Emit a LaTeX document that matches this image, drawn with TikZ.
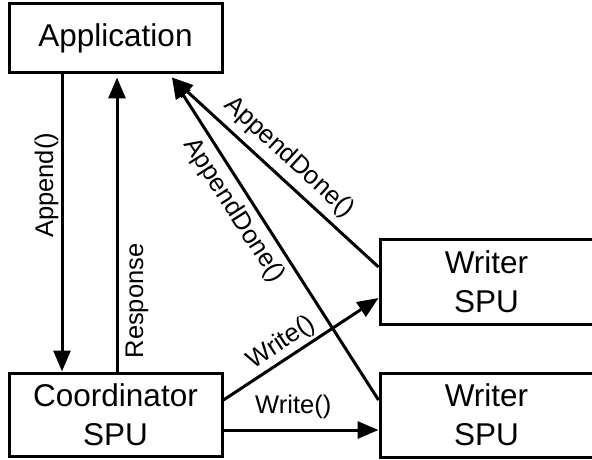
\documentclass[tikz,border=0pt]{standalone}
\usepackage{fontspec}
\setmainfont{Liberation Sans}
\usetikzlibrary{arrows.meta, positioning}

\tikzset{
  unit/.style={draw, line width=3pt, minimum width=213pt, align=center,
    font=\fontsize{31.5}{39}\selectfont},
  call/.style={line width=3pt, -{Triangle[length=21pt,width=17pt]}},
  msg/.style={font=\fontsize{25.5}{30}\selectfont, inner sep=2pt},
}

\begin{document}
\begin{tikzpicture}[x=1pt,y=1pt]
            \clip (0,0) rectangle (592,459);
            \node[unit, minimum height=69pt](app) at (115.5,420.5) {Application};
            \node[unit, minimum height=83pt](coord) at (115.5,44.5) {Coordinator\\SPU};
            \node[unit, minimum height=85pt](wa) at (486.5,177.5) {Writer\\SPU};
            \node[unit, minimum height=84pt](wb) at (486.5,44) {Writer\\SPU};
            \draw[call] ([xshift=-53.5pt]app.south) -- node[msg, rotate=90, above=8pt, pos=0.4]{Append()} ([xshift=-53.5pt]coord.north);
            \draw[call] ([xshift=1.5pt]coord.north) -- node[msg, sloped, below=5pt, pos=0.24]{Response} ([xshift=1.5pt,yshift=-3pt]app.south);
            \draw[call] ([yshift=14.5pt]coord.east) -- node[msg, sloped, above=1.5pt, inner sep=1pt, pos=0.43]{Write()} ([yshift=-16.5pt]wa.west);
            \draw[call] ([yshift=-15.5pt]coord.east) -- node[msg, above=8pt, pos=0.45]{Write()} ([yshift=-15pt]wb.west);
            \draw[call] ([yshift=14.5pt]wa.west) -- node[msg, sloped, above=5pt, pos=0.5]{AppendDone()} ([xshift=56.5pt,yshift=-3pt]app.south);
            \draw[call] ([yshift=15pt]wb.west) -- node[msg, sloped, below=4.5pt, pos=0.62]{AppendDone()} ([xshift=56.5pt,yshift=-3pt]app.south);
        \end{tikzpicture}
\end{document}
